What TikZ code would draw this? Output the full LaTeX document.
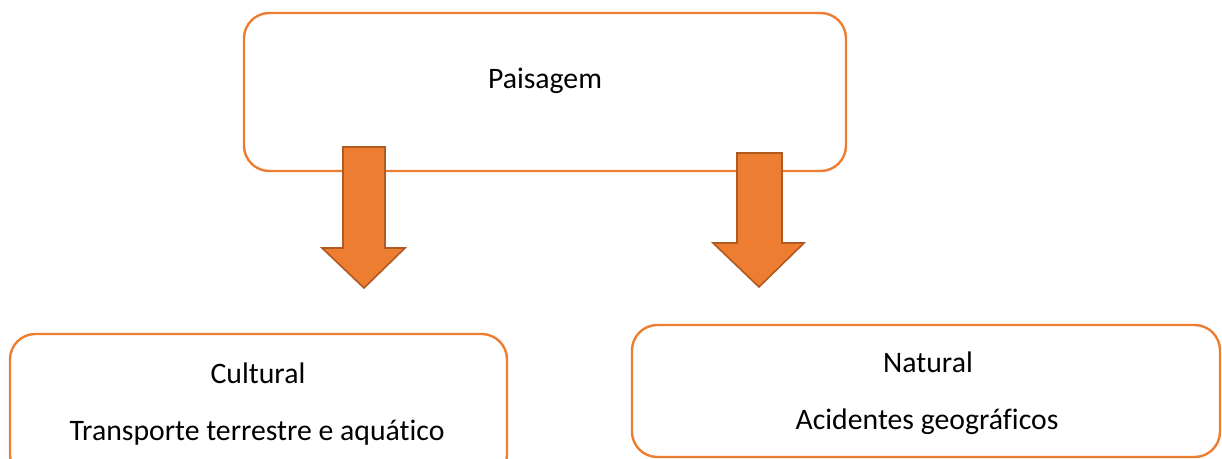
\documentclass[tikz,border=0pt]{standalone}
\usepackage{fontspec}
\setmainfont[Ligatures={NoCommon}]{Carlito}
\definecolor{accent}{HTML}{ED7D31}
\definecolor{accentdark}{HTML}{AE5A21}
\begin{document}
\begin{tikzpicture}[x=0.75pt,y=-0.75pt,
  box/.style={draw=accent,line width=1.8pt,rounded corners=19pt,fill=white},
  lbl/.style={font=\fontsize{22.3pt}{25pt}\selectfont,inner sep=0pt,anchor=center},
  blockarrow/.style={fill=accent,draw=accentdark,line width=1.2pt,line join=miter}]
\useasboundingbox (0,0) rectangle (1222,459);
% boxes
\draw[box] (244,13) rectangle (846,171);
\draw[box] (10,334) rectangle (507,480);
\draw[box] (632,325) rectangle (1220,457);
% arrows
\draw[blockarrow] (343,147) -- (385,147) -- (385,248) -- (405,248) -- (364,288) -- (322,248) -- (343,248) -- cycle;
\draw[blockarrow] (737,153) -- (782,153) -- (782,243) -- (804,243) -- (759,287) -- (713,243) -- (737,243) -- cycle;
% texts
\node[lbl] (paisagem) at (545,81) {Paisagem};
\node[lbl] (cultural) at (258,373) {Cultural};
\node[lbl] (transporte) at (257,433) {Transporte terrestre e aquático};
\node[lbl] (natural) at (928,362) {Natural};
\node[lbl] (acidentes) at (927,422) {Acidentes geográficos};
\end{tikzpicture}
\end{document}
